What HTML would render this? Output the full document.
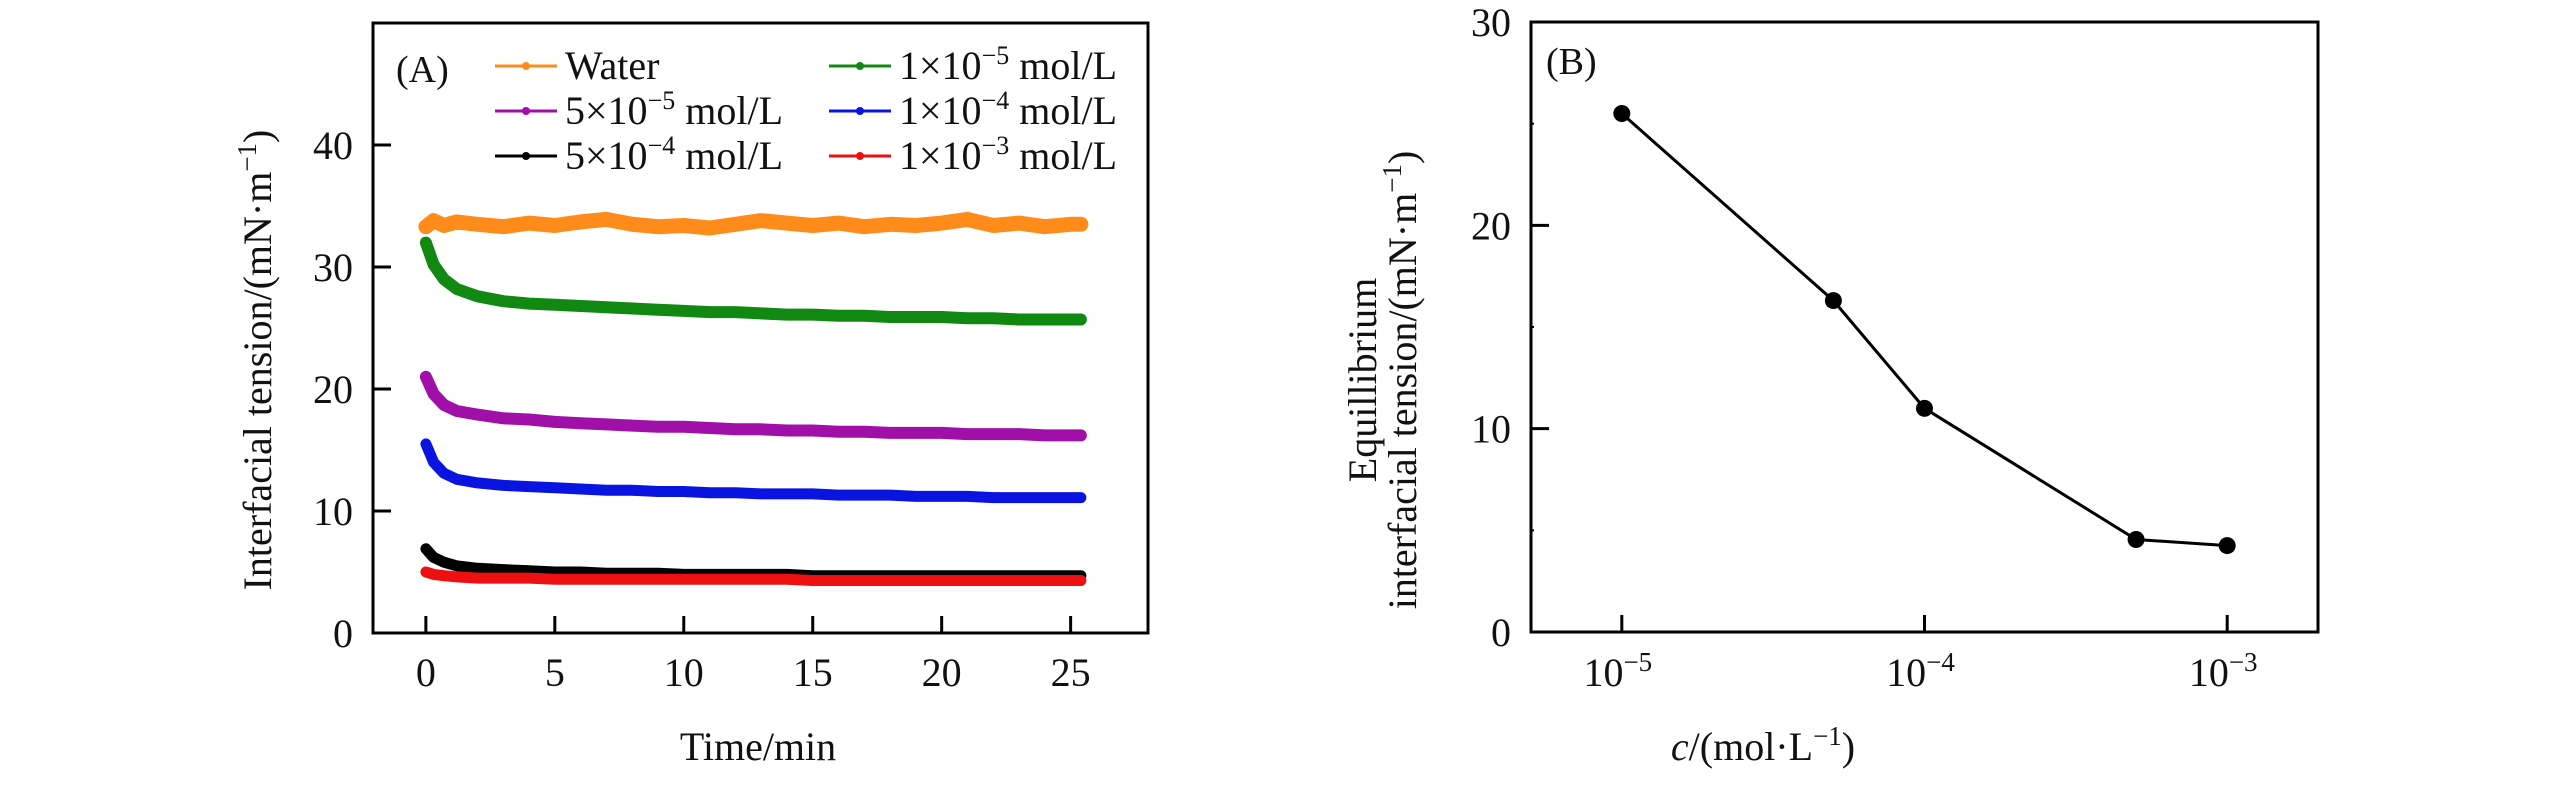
<!DOCTYPE html>
<html><head><meta charset="utf-8">
<style>
html,body{margin:0;padding:0;background:#fff;}
svg{display:block;font-family:"Liberation Serif","Times New Roman",serif;}
</style></head>
<body>
<svg id="fig" width="2567" height="787" viewBox="0 0 2567 787" xmlns="http://www.w3.org/2000/svg"></svg>
<script>
// ---------- Panel A data ----------
const aTime = [0, 0.3, 0.7, 1.2, 2, 3, 4, 5, 6, 7, 8, 9, 10, 11, 12, 13, 14, 15, 16, 17, 18, 19, 20, 21, 22, 23, 24, 25, 25.4];
const aWater = [33.3, 33.8, 33.4, 33.7, 33.5, 33.3, 33.6, 33.4, 33.7, 33.9, 33.5, 33.3, 33.4, 33.2, 33.5, 33.8, 33.6, 33.4, 33.6, 33.3, 33.5, 33.4, 33.6, 33.9, 33.4, 33.6, 33.3, 33.5, 33.5];
const aC1e5 = [32.0, 30.2, 29.0, 28.2, 27.6, 27.2, 27.0, 26.9, 26.8, 26.7, 26.6, 26.5, 26.4, 26.3, 26.3, 26.2, 26.1, 26.1, 26.0, 26.0, 25.9, 25.9, 25.9, 25.8, 25.8, 25.7, 25.7, 25.7, 25.7];
const aC5e5 = [21.0, 19.6, 18.7, 18.2, 17.9, 17.6, 17.5, 17.3, 17.2, 17.1, 17.0, 16.9, 16.9, 16.8, 16.7, 16.7, 16.6, 16.6, 16.5, 16.5, 16.4, 16.4, 16.4, 16.3, 16.3, 16.3, 16.2, 16.2, 16.2];
const aC1e4 = [15.5, 14.0, 13.1, 12.6, 12.3, 12.1, 12.0, 11.9, 11.8, 11.7, 11.7, 11.6, 11.6, 11.5, 11.5, 11.4, 11.4, 11.4, 11.3, 11.3, 11.3, 11.2, 11.2, 11.2, 11.1, 11.1, 11.1, 11.1, 11.1];
const aC5e4 = [6.9, 6.2, 5.8, 5.5, 5.3, 5.2, 5.1, 5.0, 5.0, 4.9, 4.9, 4.9, 4.8, 4.8, 4.8, 4.8, 4.8, 4.7, 4.7, 4.7, 4.7, 4.7, 4.7, 4.7, 4.7, 4.7, 4.7, 4.7, 4.7];
const aC1e3 = [5.0, 4.8, 4.7, 4.6, 4.5, 4.5, 4.5, 4.4, 4.4, 4.4, 4.4, 4.4, 4.4, 4.4, 4.4, 4.4, 4.4, 4.3, 4.3, 4.3, 4.3, 4.3, 4.3, 4.3, 4.3, 4.3, 4.3, 4.3, 4.3];
const aXTicks = [0, 5, 10, 15, 20, 25];
const aYTicks = [0, 10, 20, 30, 40];
// ---------- Panel B data ----------
const bConc = [1e-5, 5e-5, 1e-4, 5e-4, 1e-3];
const bTension = [25.5, 16.3, 11.0, 4.55, 4.25];
const bXTickExp = [-5, -4, -3];
const bYTicks = [0, 10, 20, 30];
const bYMinor = [5, 15, 25];

const NS = "http://www.w3.org/2000/svg";
const svg = document.getElementById('fig');
function mk(tag, attrs, parent){const e=document.createElementNS(NS,tag);for(const k in attrs)e.setAttribute(k,attrs[k]);(parent||svg).appendChild(e);return e;}

// ---------- Panel A axes ----------
const A = {l:373, r:1148, t:23, b:633, x0:-2.05, x1:28.0, y0:0, y1:50};
const ax = t => A.l + (t - A.x0) / (A.x1 - A.x0) * (A.r - A.l);
const ay = v => A.b - (v - A.y0) / (A.y1 - A.y0) * (A.b - A.t);

const gA = mk('g', {}); 



const seriesA = [
  {name:'series-water', vals:aWater, color:'#ff8c1a', w:15},
  {name:'series-1e-5', vals:aC1e5, color:'#118811', w:12},
  {name:'series-5e-5', vals:aC5e5, color:'#a010a8', w:12},
  {name:'series-1e-4', vals:aC1e4, color:'#0a14e0', w:11},
  {name:'series-5e-4', vals:aC5e4, color:'#000000', w:11},
  {name:'series-1e-3', vals:aC1e3, color:'#ee1010', w:11}
];
seriesA.forEach(s => {
  const pts = aTime.map((t,i) => ax(t).toFixed(1) + ',' + ay(s.vals[i]).toFixed(1)).join(' ');
  const pl = mk('polyline', {points:pts, fill:'none', stroke:s.color, 'stroke-width':s.w, 'stroke-linejoin':'round', 'stroke-linecap':'round'}, gA);
  
  
});

const frameA = mk('rect', {x:A.l, y:A.t, width:A.r-A.l, height:A.b-A.t, fill:'none', stroke:'#000', 'stroke-width':3}, gA);



aXTicks.forEach(t => {
  const x = ax(t);
  mk('line', {x1:x, x2:x, y1:A.b, y2:A.b-17, stroke:'#000', 'stroke-width':3}, gA);
  const tx = mk('text', {x:x, y:686, 'font-size':40, 'text-anchor':'middle', fill:'#111'}, gA);
  tx.textContent = t;
  
  
});
aYTicks.forEach(v => {
  const y = ay(v);
  mk('line', {x1:A.l, x2:A.l+18, y1:y, y2:y, stroke:'#000', 'stroke-width':3}, gA);
  const tx = mk('text', {x:353, y:y+14, 'font-size':40, 'text-anchor':'end', fill:'#111'}, gA);
  tx.textContent = v;
  
  
});

const xtA = mk('text', {x:758, y:760, 'font-size':40, 'text-anchor':'middle', fill:'#111'}, gA);
xtA.textContent = 'Time/min';



const ytA = mk('text', {x:0, y:0, 'font-size':40, 'text-anchor':'middle', fill:'#111', transform:'translate(271,360) rotate(-90)'}, gA);
ytA.innerHTML = 'Interfacial tension/(mN·m<tspan dy="-15" font-size="27">−1</tspan><tspan dy="15">)</tspan>';



const lblA = mk('text', {x:396, y:82, 'font-size':38, fill:'#111'}, gA);
lblA.textContent = '(A)';



// legend
const legendItems = [
  {c:'#ff8c1a', html:'Water', col:0, row:0},
  {c:'#a010a8', html:'5×10<tspan dy="-15" font-size="26">−5</tspan><tspan dy="15"> mol/L</tspan>', col:0, row:1},
  {c:'#000000', html:'5×10<tspan dy="-15" font-size="26">−4</tspan><tspan dy="15"> mol/L</tspan>', col:0, row:2},
  {c:'#118811', html:'1×10<tspan dy="-15" font-size="26">−5</tspan><tspan dy="15"> mol/L</tspan>', col:1, row:0},
  {c:'#0a14e0', html:'1×10<tspan dy="-15" font-size="26">−4</tspan><tspan dy="15"> mol/L</tspan>', col:1, row:1},
  {c:'#ee1010', html:'1×10<tspan dy="-15" font-size="26">−3</tspan><tspan dy="15"> mol/L</tspan>', col:1, row:2}
];
const legend = mk('g', {}, gA);


legendItems.forEach(it => {
  const x0 = it.col === 0 ? 495 : 829;
  const y = 66 + it.row * 45;
  const g = mk('g', {}, legend);
  
  
  mk('line', {x1:x0, x2:x0+62, y1:y, y2:y, stroke:it.c, 'stroke-width':3}, g);
  mk('circle', {cx:x0+31, cy:y, r:4, fill:it.c}, g);
  const t = mk('text', {x:x0+70, y:y+13, 'font-size':40, fill:'#111'}, g);
  t.innerHTML = it.html;
});

// ---------- Panel B ----------
const B = {l:1531, r:2318, t:22, b:632, x0:-5.30, x1:-2.70, y0:0, y1:30};
const bx = c => B.l + (Math.log10(c) - B.x0) / (B.x1 - B.x0) * (B.r - B.l);
const by = v => B.b - (v - B.y0) / (B.y1 - B.y0) * (B.b - B.t);

const gB = mk('g', {});



const frameB = mk('rect', {x:B.l, y:B.t, width:B.r-B.l, height:B.b-B.t, fill:'none', stroke:'#000', 'stroke-width':3}, gB);



bXTickExp.forEach(e => {
  const x = bx(Math.pow(10, e));
  mk('line', {x1:x, x2:x, y1:B.b, y2:B.b-17, stroke:'#000', 'stroke-width':3}, gB);
  const t = mk('text', {x:x-4, y:686, 'font-size':40, 'text-anchor':'middle', fill:'#111'}, gB);
  t.innerHTML = '10<tspan dy="-15" font-size="27">−' + (-e) + '</tspan>';
  
  
});
bYTicks.forEach(v => {
  const y = by(v);
  mk('line', {x1:B.l, x2:B.l+18, y1:y, y2:y, stroke:'#000', 'stroke-width':3}, gB);
  const t = mk('text', {x:1511, y:y+14, 'font-size':40, 'text-anchor':'end', fill:'#111'}, gB);
  t.textContent = v;
  
  
});
bYMinor.forEach(v => {
  const y = by(v);
  mk('line', {x1:B.l, x2:B.l+3, y1:y, y2:y, stroke:'#000', 'stroke-width':2}, gB);
});

const lineB = mk('polyline', {points:bConc.map((c,i)=>bx(c).toFixed(1)+','+by(bTension[i]).toFixed(1)).join(' '), fill:'none', stroke:'#000', 'stroke-width':3}, gB);


bConc.forEach((c,i) => {
  const p = mk('circle', {cx:bx(c), cy:by(bTension[i]), r:8.5, fill:'#000'}, gB);
  
  
});

const lblB = mk('text', {x:1546, y:74, 'font-size':38, fill:'#111'}, gB);
lblB.textContent = '(B)';



const xtB = mk('text', {x:1763, y:760, 'font-size':40, 'text-anchor':'middle', fill:'#111'}, gB);
xtB.innerHTML = '<tspan font-style="italic">c</tspan>/(mol·L<tspan dy="-15" font-size="27">−1</tspan><tspan dy="15">)</tspan>';



const ytB1 = mk('text', {x:0, y:0, 'font-size':40, 'text-anchor':'middle', fill:'#111', transform:'translate(1376,380) rotate(-90)'}, gB);
ytB1.textContent = 'Equillibrium';


const ytB2 = mk('text', {x:0, y:0, 'font-size':40, 'text-anchor':'middle', fill:'#111', transform:'translate(1416,380) rotate(-90)'}, gB);
ytB2.innerHTML = 'interfacial tension/(mN·m<tspan dy="-15" font-size="27">−1</tspan><tspan dy="15">)</tspan>';


</script>
</body></html>
